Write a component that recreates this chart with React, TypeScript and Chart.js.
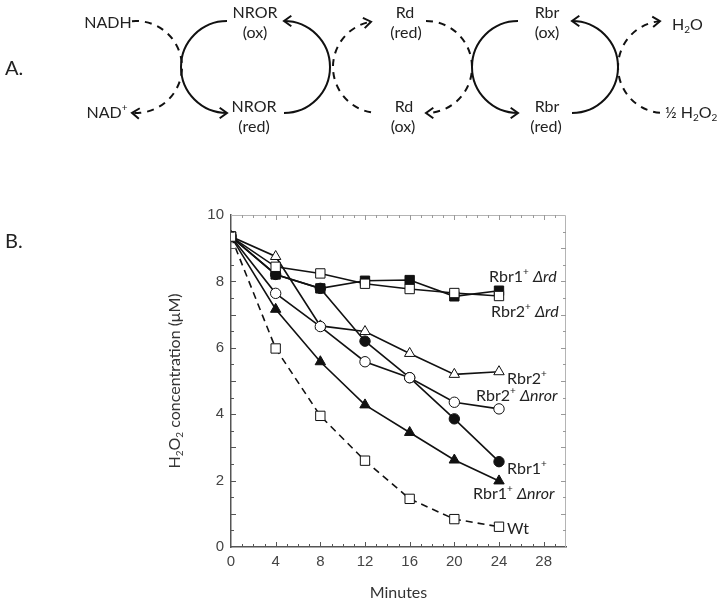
import React, { useEffect, useRef } from 'react';
import { Chart, registerables } from 'chart.js';

Chart.register(...registerables);

// ---------------- data ----------------
const minutes = [0, 4, 8, 12, 16, 20, 24];
const rbr1Drd = [9.35, 8.21, 7.79, 8.02, 8.04, 7.55, 7.72];
const rbr2Drd = [9.35, 8.44, 8.24, 7.93, 7.77, 7.65, 7.56];
const rbr2 = [9.35, 8.75, 6.66, 6.49, 5.83, 5.2, 5.28];
const rbr2Dnror = [9.35, 7.64, 6.64, 5.58, 5.1, 4.36, 4.16];
const rbr1 = [9.35, 8.21, 7.79, 6.2, 5.1, 3.86, 2.57];
const rbr1Dnror = [9.35, 7.16, 5.58, 4.28, 3.45, 2.62, 1.99];
const wt = [9.35, 5.98, 3.95, 2.6, 1.45, 0.84, 0.61];

const xMin = 0;
const xMax = 30;
const xLabelStep = 4;
const xLabelMax = 28;
const yMin = 0;
const yMax = 10;
const yLabelStep = 2;

const xTitle = 'Minutes';

// ---------------- helpers ----------------
type Part = { t: string; sup?: boolean; sub?: boolean; it?: boolean };

const LABEL_FAMILY = 'Lato, "Open Sans", sans-serif';
const TICK_FAMILY = '"Liberation Sans", Arial, sans-serif';

function partFont(p: Part, size: number, family: string) {
  const s = p.sup || p.sub ? Math.round(size * 0.65) : size;
  return `${p.it ? 'italic ' : ''}${s}px ${family}`;
}

function richWidth(ctx: CanvasRenderingContext2D, parts: Part[], size: number, family: string) {
  let w = 0;
  for (const p of parts) {
    ctx.font = partFont(p, size, family);
    w += ctx.measureText(p.t).width;
  }
  return w;
}

function drawRich(
  ctx: CanvasRenderingContext2D,
  parts: Part[],
  x: number,
  y: number,
  size: number,
  family: string,
  align: 'left' | 'center' = 'left',
  color = '#222'
) {
  ctx.save();
  ctx.fillStyle = color;
  ctx.textBaseline = 'middle';
  ctx.textAlign = 'left';
  let cx = x;
  if (align === 'center') cx = x - richWidth(ctx, parts, size, family) / 2;
  for (const p of parts) {
    ctx.font = partFont(p, size, family);
    let dy = 0;
    if (p.sup) dy = -size * 0.3;
    if (p.sub) dy = size * 0.3;
    ctx.fillText(p.t, cx, y + dy);
    cx += ctx.measureText(p.t).width;
  }
  ctx.restore();
}

function arcWithArrow(
  ctx: CanvasRenderingContext2D,
  cx: number,
  cy: number,
  r: number,
  a0deg: number,
  a1deg: number,
  anticlockwise: boolean,
  dashed: boolean
) {
  const a0 = (a0deg * Math.PI) / 180;
  const a1 = (a1deg * Math.PI) / 180;
  ctx.save();
  ctx.lineWidth = 2;
  ctx.strokeStyle = '#111';
  ctx.setLineDash(dashed ? [7, 6] : []);
  ctx.beginPath();
  ctx.arc(cx, cy, r, a0, a1, anticlockwise);
  ctx.stroke();
  ctx.setLineDash([]);
  const tx = cx + r * Math.cos(a1);
  const ty = cy + r * Math.sin(a1);
  const dir = anticlockwise
    ? Math.atan2(-Math.cos(a1), Math.sin(a1))
    : Math.atan2(Math.cos(a1), -Math.sin(a1));
  const L = 9;
  const spread = 0.62;
  ctx.beginPath();
  ctx.moveTo(tx - L * Math.cos(dir - spread), ty - L * Math.sin(dir - spread));
  ctx.lineTo(tx, ty);
  ctx.lineTo(tx - L * Math.cos(dir + spread), ty - L * Math.sin(dir + spread));
  ctx.stroke();
  ctx.restore();
}

function drawDiagram(ctx: CanvasRenderingContext2D) {
  const cy = 67;
  const r = 46;
  arcWithArrow(ctx, 136, cy, r, -95, 95, false, true);
  arcWithArrow(ctx, 227, cy, r, -90, 90, true, false);
  arcWithArrow(ctx, 284, cy, r, 90, -90, true, false);
  arcWithArrow(ctx, 379, cy, r, 100, 260, false, true);
  arcWithArrow(ctx, 426, cy, r, -90, 90, false, true);
  arcWithArrow(ctx, 518, cy, r, -90, 90, true, false);
  arcWithArrow(ctx, 572, cy, r, 90, -90, true, false);
  arcWithArrow(ctx, 664, cy, r, 95, 265, false, true);

  const fs = 16;
  const F = LABEL_FAMILY;
  drawRich(ctx, [{ t: 'NADH' }], 108, 23, fs, F, 'center');
  drawRich(ctx, [{ t: 'NAD' }, { t: '+', sup: true }], 107, 113, fs, F, 'center');
  drawRich(ctx, [{ t: 'NROR' }], 255, 13, fs, F, 'center');
  drawRich(ctx, [{ t: '(ox)' }], 255, 33, fs, F, 'center');
  drawRich(ctx, [{ t: 'NROR' }], 254, 107, fs, F, 'center');
  drawRich(ctx, [{ t: '(red)' }], 254, 127, fs, F, 'center');
  drawRich(ctx, [{ t: 'Rd' }], 405, 13, fs, F, 'center');
  drawRich(ctx, [{ t: '(red)' }], 406, 33, fs, F, 'center');
  drawRich(ctx, [{ t: 'Rd' }], 404, 107, fs, F, 'center');
  drawRich(ctx, [{ t: '(ox)' }], 403, 127, fs, F, 'center');
  drawRich(ctx, [{ t: 'Rbr' }], 547, 13, fs, F, 'center');
  drawRich(ctx, [{ t: '(ox)' }], 547, 33, fs, F, 'center');
  drawRich(ctx, [{ t: 'Rbr' }], 547, 107, fs, F, 'center');
  drawRich(ctx, [{ t: '(red)' }], 546, 127, fs, F, 'center');
  drawRich(ctx, [{ t: 'H' }, { t: '2', sub: true }, { t: 'O' }], 672, 25, fs, F, 'left');
  drawRich(ctx, [{ t: '½ H' }, { t: '2', sub: true }, { t: 'O' }, { t: '2', sub: true }], 665, 113, fs, F, 'left');
  drawRich(ctx, [{ t: 'A.' }], 5, 69, 20, F, 'left');
}

// labels at the end of each curve: dataset index, text parts, offset from last point
const endLabels: { ds: number; parts: Part[]; dx: number; dy: number }[] = [
  { ds: 1, parts: [{ t: 'Rbr1' }, { t: '+', sup: true }, { t: ' ' }, { t: 'Δrd', it: true }], dx: -10, dy: -14 },
  { ds: 0, parts: [{ t: 'Rbr2' }, { t: '+', sup: true }, { t: ' ' }, { t: 'Δrd', it: true }], dx: -8, dy: 16 },
  { ds: 3, parts: [{ t: 'Rbr2' }, { t: '+', sup: true }], dx: 8, dy: 7 },
  { ds: 2, parts: [{ t: 'Rbr2' }, { t: '+', sup: true }, { t: ' ' }, { t: 'Δnror', it: true }], dx: -23, dy: -13 },
  { ds: 5, parts: [{ t: 'Rbr1' }, { t: '+', sup: true }], dx: 8, dy: 7 },
  { ds: 4, parts: [{ t: 'Rbr1' }, { t: '+', sup: true }, { t: ' ' }, { t: 'Δnror', it: true }], dx: -26, dy: 13 },
  { ds: 6, parts: [{ t: 'Wt' }], dx: 8, dy: 2 },
];

const overlayPlugin = {
  id: 'overlay',
  afterDraw(chart: any) {
    const ctx: CanvasRenderingContext2D = chart.ctx;
    const { left, right, top, bottom } = chart.chartArea;
    const xs = chart.scales.x;
    const ys = chart.scales.y;
    ctx.save();
    // faint top & right frame
    ctx.strokeStyle = '#b4b4b4';
    ctx.lineWidth = 1;
    ctx.beginPath();
    ctx.moveTo(left, top + 0.5);
    ctx.lineTo(right - 0.5, top + 0.5);
    ctx.lineTo(right - 0.5, bottom);
    ctx.stroke();
    // inward ticks
    for (const t of xs.ticks) {
      const v = t.value;
      if (v <= xMin || v >= xMax) continue;
      const px = Math.round(xs.getPixelForValue(v)) + 0.5;
      const major = v % xLabelStep === 0;
      const len = major ? 5 : 3;
      ctx.strokeStyle = '#555';
      ctx.beginPath();
      ctx.moveTo(px, bottom);
      ctx.lineTo(px, bottom - len);
      ctx.stroke();
      ctx.strokeStyle = '#999';
      ctx.beginPath();
      ctx.moveTo(px, top);
      ctx.lineTo(px, top + len);
      ctx.stroke();
    }
    for (const t of ys.ticks) {
      const v = t.value;
      if (v <= yMin || v >= yMax) continue;
      const py = Math.round(ys.getPixelForValue(v)) + 0.5;
      const major = v % 1 === 0;
      const len = major ? 5 : 3;
      ctx.strokeStyle = '#555';
      ctx.beginPath();
      ctx.moveTo(left, py);
      ctx.lineTo(left + len, py);
      ctx.stroke();
      ctx.strokeStyle = '#999';
      ctx.beginPath();
      ctx.moveTo(right, py);
      ctx.lineTo(right - len, py);
      ctx.stroke();
    }
    ctx.restore();

    // end labels
    for (const l of endLabels) {
      const data = chart.data.datasets[l.ds].data;
      const last = data[data.length - 1];
      const px = xs.getPixelForValue(last.x) + l.dx;
      const py = ys.getPixelForValue(last.y) + l.dy;
      drawRich(ctx, l.parts, px, py, 16, LABEL_FAMILY, 'left', '#222');
    }

    // axis titles
    drawRich(ctx, [{ t: xTitle }], (left + right) / 2, 593, 16, LABEL_FAMILY, 'center', '#333');
    ctx.save();
    ctx.translate(175, (top + bottom) / 2);
    ctx.rotate(-Math.PI / 2);
    drawRich(
      ctx,
      [{ t: 'H' }, { t: '2', sub: true }, { t: 'O' }, { t: '2', sub: true }, { t: ' concentration (μM)' }],
      0,
      0,
      16,
      LABEL_FAMILY,
      'center',
      '#333'
    );
    ctx.restore();
    drawRich(ctx, [{ t: 'B.' }], 5, 242, 20, LABEL_FAMILY, 'left');

    drawDiagram(ctx);
  },
};

function series(values: number[]) {
  return values.map((v, i) => ({ x: minutes[i], y: v }));
}

export default function App() {
  const ref = useRef<HTMLCanvasElement | null>(null);
  useEffect(() => {
    if (!ref.current) return;
    const black = '#111';
    const base = {
      borderColor: black,
      borderWidth: 1.6,
      pointBorderColor: black,
      pointBorderWidth: 1,
      tension: 0,
      fill: false,
    };
    const chart = new Chart(ref.current, {
      type: 'line',
      data: {
        datasets: [
          { ...base, label: 'Rbr2+ Δrd', data: series(rbr2Drd), pointStyle: 'rect', pointRadius: 6.6, pointBackgroundColor: '#fff' },
          { ...base, label: 'Rbr1+ Δrd', data: series(rbr1Drd), pointStyle: 'rect', pointRadius: 6.6, pointBackgroundColor: black },
          { ...base, label: 'Rbr2+ Δnror', data: series(rbr2Dnror), pointStyle: 'circle', pointRadius: 5.2, pointBackgroundColor: '#fff' },
          { ...base, label: 'Rbr2+', data: series(rbr2), pointStyle: 'triangle', pointRadius: 6, pointBackgroundColor: '#fff' },
          { ...base, label: 'Rbr1+ Δnror', data: series(rbr1Dnror), pointStyle: 'triangle', pointRadius: 6, pointBackgroundColor: black },
          { ...base, label: 'Rbr1+', data: series(rbr1), pointStyle: 'circle', pointRadius: 5.2, pointBackgroundColor: black },
          { ...base, label: 'Wt', data: series(wt), pointStyle: 'rect', pointRadius: 6.6, pointBackgroundColor: '#fff', borderDash: [7, 5] },
        ],
      },
      options: {
        responsive: false,
        animation: false,
        devicePixelRatio: 1,
        layout: { padding: { left: 191, right: 158, top: 215, bottom: 29 } },
        plugins: { legend: { display: false }, tooltip: { enabled: false }, title: { display: false } },
        scales: {
          x: {
            type: 'linear',
            min: xMin,
            max: xMax,
            grid: { display: false, drawTicks: false },
            border: { display: true, color: '#555', width: 1.5 },
            ticks: {
              stepSize: 1,
              autoSkip: false,
              maxRotation: 0,
              padding: 6,
              color: '#444',
              font: { family: TICK_FAMILY, size: 15 },
              callback: (v: any) => (Number(v) % xLabelStep === 0 && Number(v) <= xLabelMax ? String(v) : ''),
            },
            afterFit: (s: any) => {
              s.height = 30;
            },
          },
          y: {
            type: 'linear',
            min: yMin,
            max: yMax,
            grid: { display: false, drawTicks: false },
            border: { display: true, color: '#555', width: 1.5 },
            ticks: {
              stepSize: 0.5,
              autoSkip: false,
              padding: 7,
              color: '#444',
              font: { family: TICK_FAMILY, size: 15 },
              callback: (v: any) => (Number(v) % yLabelStep === 0 ? String(v) : ''),
            },
            afterFit: (s: any) => {
              s.width = 40;
            },
          },
        },
      } as any,
      plugins: [overlayPlugin],
    });
    return () => chart.destroy();
  }, []);

  return (
    <div style={{ position: 'absolute', left: 0, top: 0, width: 724, height: 606, background: '#fff' }}>
      <canvas ref={ref} width={724} height={606} style={{ width: 724, height: 606, display: 'block' }} />
    </div>
  );
}
